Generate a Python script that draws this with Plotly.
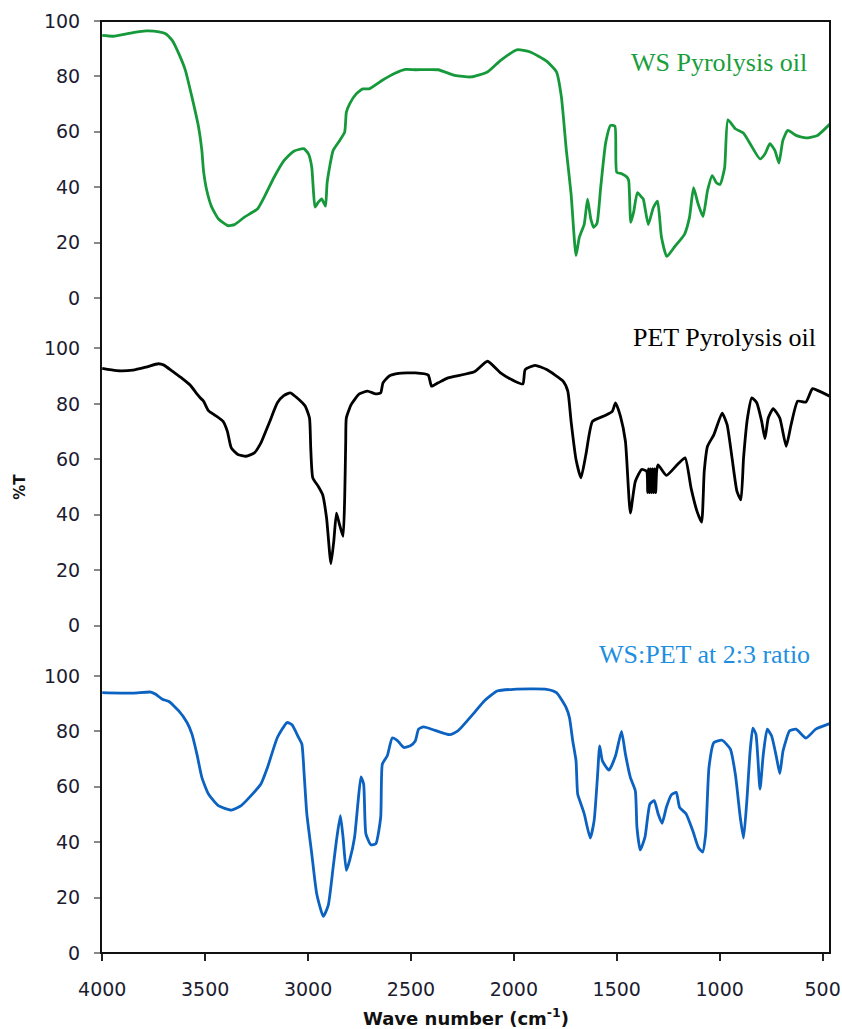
import plotly.graph_objects as go
from plotly.subplots import make_subplots

# FTIR spectra (% transmittance vs wave number, cm-1)
ws_wn = [4000, 3947, 3851, 3787, 3724, 3692, 3660, 3628, 3596, 3564, 3532, 3516, 3508, 3492,
         3468, 3436, 3389, 3357, 3309, 3245, 3213, 3165, 3117, 3069, 3021, 2998, 2982, 2974,
         2966, 2950, 2934, 2923, 2915, 2907, 2878, 2846, 2822, 2818, 2814, 2798, 2766, 2734,
         2703, 2639, 2575, 2527, 2479, 2368, 2288, 2208, 2128, 2064, 1985, 1921, 1841, 1793,
         1769, 1745, 1722, 1698, 1682, 1658, 1642, 1626, 1612, 1596, 1578, 1554, 1530, 1509,
         1500, 1474, 1450, 1442, 1432, 1418, 1400, 1379, 1371, 1347, 1323, 1302, 1283, 1257,
         1219, 1171, 1147, 1127, 1105, 1081, 1059, 1036, 1015, 998, 976, 960, 924, 884, 852,
         804, 780, 756, 732, 712, 693, 669, 629, 581, 525, 466]
ws_t = [94.8, 94.5, 95.8, 96.4, 96.1, 95.4, 93.0, 88.2, 82.2, 72.5, 61.7, 53.3, 46.0, 38.8,
        32.8, 28.6, 26.1, 26.5, 29.2, 32.2, 36.4, 43.6, 49.6, 53.0, 53.9, 52.0, 47.2, 38.8,
        32.8, 34.6, 35.8, 34.3, 33.2, 41.8, 53.3, 56.9, 59.9, 63.0, 67.0, 70.1, 73.7, 75.5,
        75.5, 78.6, 81.2, 82.5, 82.4, 82.4, 80.4, 79.8, 81.6, 85.8, 89.6, 88.8, 85.5, 81.6,
        72.5, 53.3, 37.6, 15.3, 21.9, 26.7, 35.7, 28.5, 25.5, 27.0, 40.0, 56.0, 62.3, 62.0,
        45.4, 44.8, 43.6, 42.4, 27.3, 31.0, 38.0, 36.4, 35.7, 26.5, 32.5, 35.0, 22.0, 15.0,
        18.5, 23.0, 29.0, 39.8, 34.0, 29.4, 38.8, 44.2, 41.5, 41.0, 47.0, 64.3, 61.1, 59.5, 55.7,
        50.2, 52.0, 55.7, 53.3, 48.7, 56.9, 60.5, 58.7, 57.8, 58.7, 62.7]

pet_wn = [4000, 3931, 3851, 3787, 3727, 3700, 3660, 3612, 3572, 3540, 3524, 3508, 3484, 3452,
          3413, 3392, 3373, 3341, 3301, 3261, 3229, 3189, 3149, 3118, 3086, 3054, 3014, 2993,
          2987, 2977, 2950, 2929, 2910, 2889, 2875, 2862, 2849, 2830, 2822, 2817, 2814, 2790,
          2751, 2711, 2671, 2647, 2636, 2607, 2559, 2479, 2416, 2400, 2368, 2320, 2192, 2128,
          2065, 2001, 1956, 1945, 1897, 1841, 1761, 1738, 1722, 1698, 1674, 1650, 1618, 1554,
          1522, 1506, 1482, 1458, 1434, 1410, 1379, 1355,
          1350, 1346, 1341, 1336, 1331, 1326, 1321, 1316, 1311, 1306,
          1299, 1259, 1203, 1168, 1139, 1110, 1088, 1075, 1059, 1028, 988, 964, 940, 916, 897,
          884, 865, 844, 820, 796, 780, 764, 740, 708, 677, 653, 621, 581, 549, 517, 466]
pet_t = [92.8, 92.0, 92.2, 93.3, 94.5, 94.0, 91.8, 89.2, 86.7, 83.6, 82.2, 81.0, 77.6, 75.9,
         73.7, 70.1, 64.1, 61.7, 61.1, 62.3, 65.9, 73.1, 80.4, 83.0, 84.0, 82.2, 79.2, 74.9,
         64.1, 53.3, 50.2, 47.2, 38.8, 22.3, 30.4, 40.6, 37.0, 32.2, 46.0, 66.5, 74.9, 79.8,
         83.6, 84.6, 83.6, 84.0, 87.6, 90.0, 91.0, 91.2, 90.4, 86.4, 87.6, 89.4, 91.6, 95.4,
         91.2, 88.4, 87.2, 92.4, 93.9, 92.4, 88.2, 84.6, 73.7, 59.9, 53.3, 61.7, 73.7, 75.9,
         77.3, 80.4, 75.5, 66.5, 40.6, 52.0, 56.3, 55.7,
         48.0, 56.5, 48.0, 56.5, 48.0, 56.5, 48.0, 56.5, 48.0, 56.0,
         58.0, 54.2, 58.3, 60.5, 49.6, 41.2, 37.3, 55.7, 64.7, 68.9, 76.7, 72.5, 60.5, 48.4, 45.4,
         60.5, 74.9, 82.2, 80.4, 73.7, 67.5, 74.9, 78.3, 74.9, 64.7, 72.5, 81.0, 80.7, 85.5, 84.6, 82.8]

mix_wn = [4000, 3851, 3764, 3740, 3708, 3676, 3628, 3588, 3564, 3540, 3516, 3484, 3436, 3373,
          3325, 3277, 3229, 3197, 3149, 3102, 3078, 3046, 3030, 3019, 3006, 2982, 2958, 2926,
          2902, 2878, 2862, 2843, 2830, 2814, 2798, 2774, 2758, 2743, 2730, 2719, 2695, 2671,
          2647, 2639, 2615, 2591, 2567, 2535, 2503, 2479, 2463, 2439, 2384, 2312, 2272, 2192,
          2144, 2081, 2001, 1841, 1793, 1746, 1730, 1714, 1698, 1690, 1674, 1658, 1629, 1610,
          1594, 1583, 1570, 1538, 1506, 1477, 1458, 1434, 1410, 1402, 1386, 1363, 1339, 1318,
          1299, 1280, 1259, 1235, 1211, 1195, 1163, 1131, 1104, 1083, 1068, 1052, 1028, 988,
          948, 924, 900, 884, 868, 852, 839, 824, 804, 788, 769, 748, 724, 708, 692, 660, 629,
          581, 533, 466]
mix_t = [94.0, 93.8, 94.2, 93.4, 91.6, 90.8, 87.4, 83.2, 79.0, 71.8, 63.4, 57.4, 53.2, 51.6,
         53.2, 56.8, 61.0, 67.0, 77.8, 83.2, 82.4, 77.8, 75.4, 64.6, 50.2, 35.8, 21.4, 13.2,
         17.2, 31.0, 40.6, 49.6, 41.8, 29.8, 33.4, 41.8, 53.8, 63.6, 61.0, 43.0, 39.1, 39.4,
         49.0, 68.2, 71.2, 77.6, 76.8, 74.2, 74.8, 76.5, 80.8, 81.6, 80.4, 78.8, 80.2, 86.8,
         91.0, 94.6, 95.2, 95.2, 94.0, 88.6, 85.0, 76.6, 69.4, 57.4, 53.8, 50.2, 41.5, 47.8,
         63.4, 74.8, 69.4, 66.0, 71.2, 80.0, 71.8, 63.4, 58.6, 45.4, 37.2, 41.8, 53.8, 55.0,
         50.2, 46.8, 52.6, 57.1, 58.0, 52.6, 50.2, 44.2, 38.2, 36.4, 43.0, 67.0, 76.0, 76.8,
         73.6, 64.6, 49.0, 41.5, 55.0, 73.0, 81.2, 79.0, 59.2, 71.8, 80.8, 78.4, 70.6, 64.8, 73.0,
         80.2, 80.8, 77.6, 80.8, 82.8]

x_ticks = [4000, 3500, 3000, 2500, 2000, 1500, 1000, 500]
y_ticks = [0, 20, 40, 60, 80, 100]

spectra = [
    ("WS Pyrolysis oil", ws_wn, ws_t, "#16993a", "#1a9e3c"),
    ("PET Pyrolysis oil", pet_wn, pet_t, "#000000", "#000000"),
    ("WS:PET at 2:3 ratio", mix_wn, mix_t, "#0b62c0", "#1e8fe0"),
]

fig = make_subplots(rows=3, cols=1, shared_xaxes=True, vertical_spacing=0)

for i, (name, wn, t, color, _) in enumerate(spectra, start=1):
    fig.add_trace(go.Scatter(x=wn, y=t, mode="lines", name=name,
                             line=dict(color=color, width=2.8, shape="spline", smoothing=0.5)),
                  row=i, col=1)

gap = 9.115
tick_font = dict(family="DejaVu Sans", size=19, color="#1c1c30")
y_common = dict(tickvals=y_ticks, ticks="outside", ticklen=6, tickwidth=1.5, tickcolor="#888888",
                showgrid=False, zeroline=False, showline=False, tickfont=tick_font,
                ticklabelstandoff=10)
fig.update_layout(
    yaxis=dict(domain=[0.6757, 1.0], range=[-gap, 100], **y_common),
    yaxis2=dict(domain=[0.3243, 0.6757], range=[-gap, 100 + gap], **y_common),
    yaxis3=dict(domain=[0.0, 0.3243], range=[0, 100 + gap], **y_common),
)

x_common = dict(range=[4006, 464], showgrid=False, zeroline=False, showline=False)
fig.update_xaxes(showticklabels=False, ticks="", **x_common)
fig.update_xaxes(row=3, col=1, showticklabels=True, ticks="outside", ticklen=7, tickwidth=1.5,
                 tickcolor="#222222", tickvals=x_ticks, tickfont=tick_font,
                 ticklabeloverflow="allow", ticklabelstandoff=12)

fig.add_shape(type="rect", xref="paper", yref="paper", x0=0, x1=1, y0=0, y1=1,
              line=dict(color="#111111", width=2), fillcolor="rgba(0,0,0,0)")

label_pos = [(0.848, 0.9555), (0.855, 0.6604), (0.8275, 0.3208)]
for (name, _, _, _, tcolor), (lx, ly) in zip(spectra, label_pos):
    fig.add_annotation(x=lx, y=ly, xref="paper", yref="paper", text=name, showarrow=False,
                       xanchor="center", yanchor="middle",
                       font=dict(family="Liberation Serif", size=26, color=tcolor))

fig.add_annotation(x=0.5, y=-0.0687, xref="paper", yref="paper",
                   text="<b>Wave number (cm<sup>-1</sup>)</b>", showarrow=False,
                   xanchor="center", yanchor="middle",
                   font=dict(family="DejaVu Sans", size=18, color="#111111"))
fig.add_annotation(x=-0.1115, y=0.5, xref="paper", yref="paper", text="<b>%T</b>",
                   showarrow=False, textangle=-90, xanchor="center", yanchor="middle",
                   font=dict(family="DejaVu Sans", size=15, color="#111111"))

fig.update_layout(width=842, height=1029, margin=dict(l=101, r=1, t=21, b=76),
                  paper_bgcolor="white", plot_bgcolor="white", showlegend=False)

fig.write_html("out.html")
